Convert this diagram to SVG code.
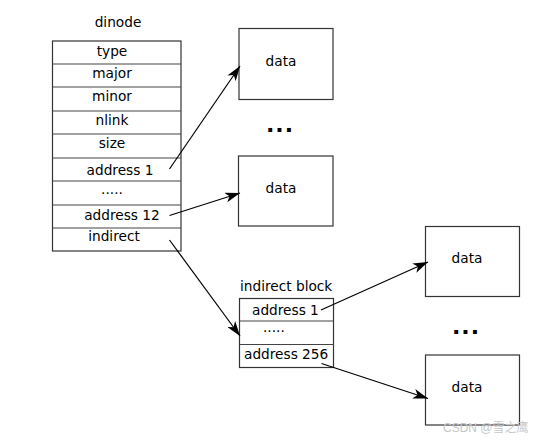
<svg xmlns="http://www.w3.org/2000/svg" width="558" height="444" viewBox="0 0 558 444">
<defs>
<style>
text{font-family:"DejaVu Sans","Liberation Sans",sans-serif;font-size:13.7px;fill:#000}
.c{text-anchor:middle}
.box{fill:#fff;stroke:#333;stroke-width:1.2}
.sep{stroke:#444;stroke-width:1.2}
.dots{font-weight:bold;font-size:22px;text-anchor:middle;letter-spacing:1px}
.conn{stroke:#000;stroke-width:1.2;fill:none;marker-end:url(#ah)}
.wm{font-family:"Liberation Sans","Noto Sans CJK SC",sans-serif;font-size:12px;fill:#c8c8c8}
</style>
<marker id="ah" viewBox="0 0 16 10" markerWidth="16" markerHeight="10" refX="15" refY="5" orient="auto" markerUnits="userSpaceOnUse">
<path d="M15,5 L0,0 L4,5 L0,10 Z" fill="#000"/>
</marker>
</defs>
<rect width="558" height="444" fill="#fff"/>

<g id="dinode">
<text class="c" x="118" y="27">dinode</text>
<rect class="box" x="52.5" y="41" width="128.5" height="210"/>
<line class="sep" x1="52.5" y1="64" x2="181" y2="64"/>
<line class="sep" x1="52.5" y1="87" x2="181" y2="87"/>
<line class="sep" x1="52.5" y1="111" x2="181" y2="111"/>
<line class="sep" x1="52.5" y1="134" x2="181" y2="134"/>
<line class="sep" x1="52.5" y1="158" x2="181" y2="158"/>
<line class="sep" x1="52.5" y1="181" x2="181" y2="181"/>
<line class="sep" x1="52.5" y1="205" x2="181" y2="205"/>
<line class="sep" x1="52.5" y1="228" x2="181" y2="228"/>
<text class="c" x="112" y="56">type</text>
<text class="c" x="112" y="78">major</text>
<text class="c" x="112" y="101">minor</text>
<text class="c" x="112" y="125">nlink</text>
<text class="c" x="112" y="148">size</text>
<text class="c" x="120" y="175">address 1</text>
<text class="c" x="112" y="194">.....</text>
<text class="c" x="122" y="220">address 12</text>
<text class="c" x="114" y="241">indirect</text>
</g>

<g id="data1">
<rect class="box" x="239" y="28.5" width="94" height="71"/>
<text class="c" x="281" y="66">data</text>
</g>
<text class="dots" x="280" y="132">...</text>
<g id="data2">
<rect class="box" x="238.5" y="156" width="94.5" height="70"/>
<text class="c" x="281" y="193">data</text>
</g>

<g id="indirect-block">
<text x="240" y="291">indirect block</text>
<rect class="box" x="239.5" y="298.5" width="94" height="69"/>
<line class="sep" x1="239.5" y1="321" x2="333.5" y2="321"/>
<line class="sep" x1="239.5" y1="344.5" x2="333.5" y2="344.5"/>
<text x="252" y="315">address 1</text>
<text x="263" y="332">.....</text>
<text x="244" y="359">address 256</text>
</g>

<g id="data3">
<rect class="box" x="425.5" y="226.5" width="94" height="70"/>
<text class="c" x="467" y="263">data</text>
</g>
<text class="dots" x="466" y="334">...</text>
<g id="data4">
<rect class="box" x="425.5" y="355" width="94" height="70"/>
<text class="c" x="467" y="392">data</text>
</g>

<g id="connectors">
<line class="conn" x1="169.5" y1="169" x2="240" y2="66"/>
<line class="conn" x1="169.5" y1="215.5" x2="240" y2="193"/>
<line class="conn" x1="169.5" y1="240" x2="240" y2="336"/>
<line class="conn" x1="321" y1="310" x2="428" y2="262"/>
<line class="conn" x1="321.5" y1="363.5" x2="428" y2="398.5"/>
</g>

<text class="wm" x="443" y="432">CSDN @雪之鹰</text>
</svg>
